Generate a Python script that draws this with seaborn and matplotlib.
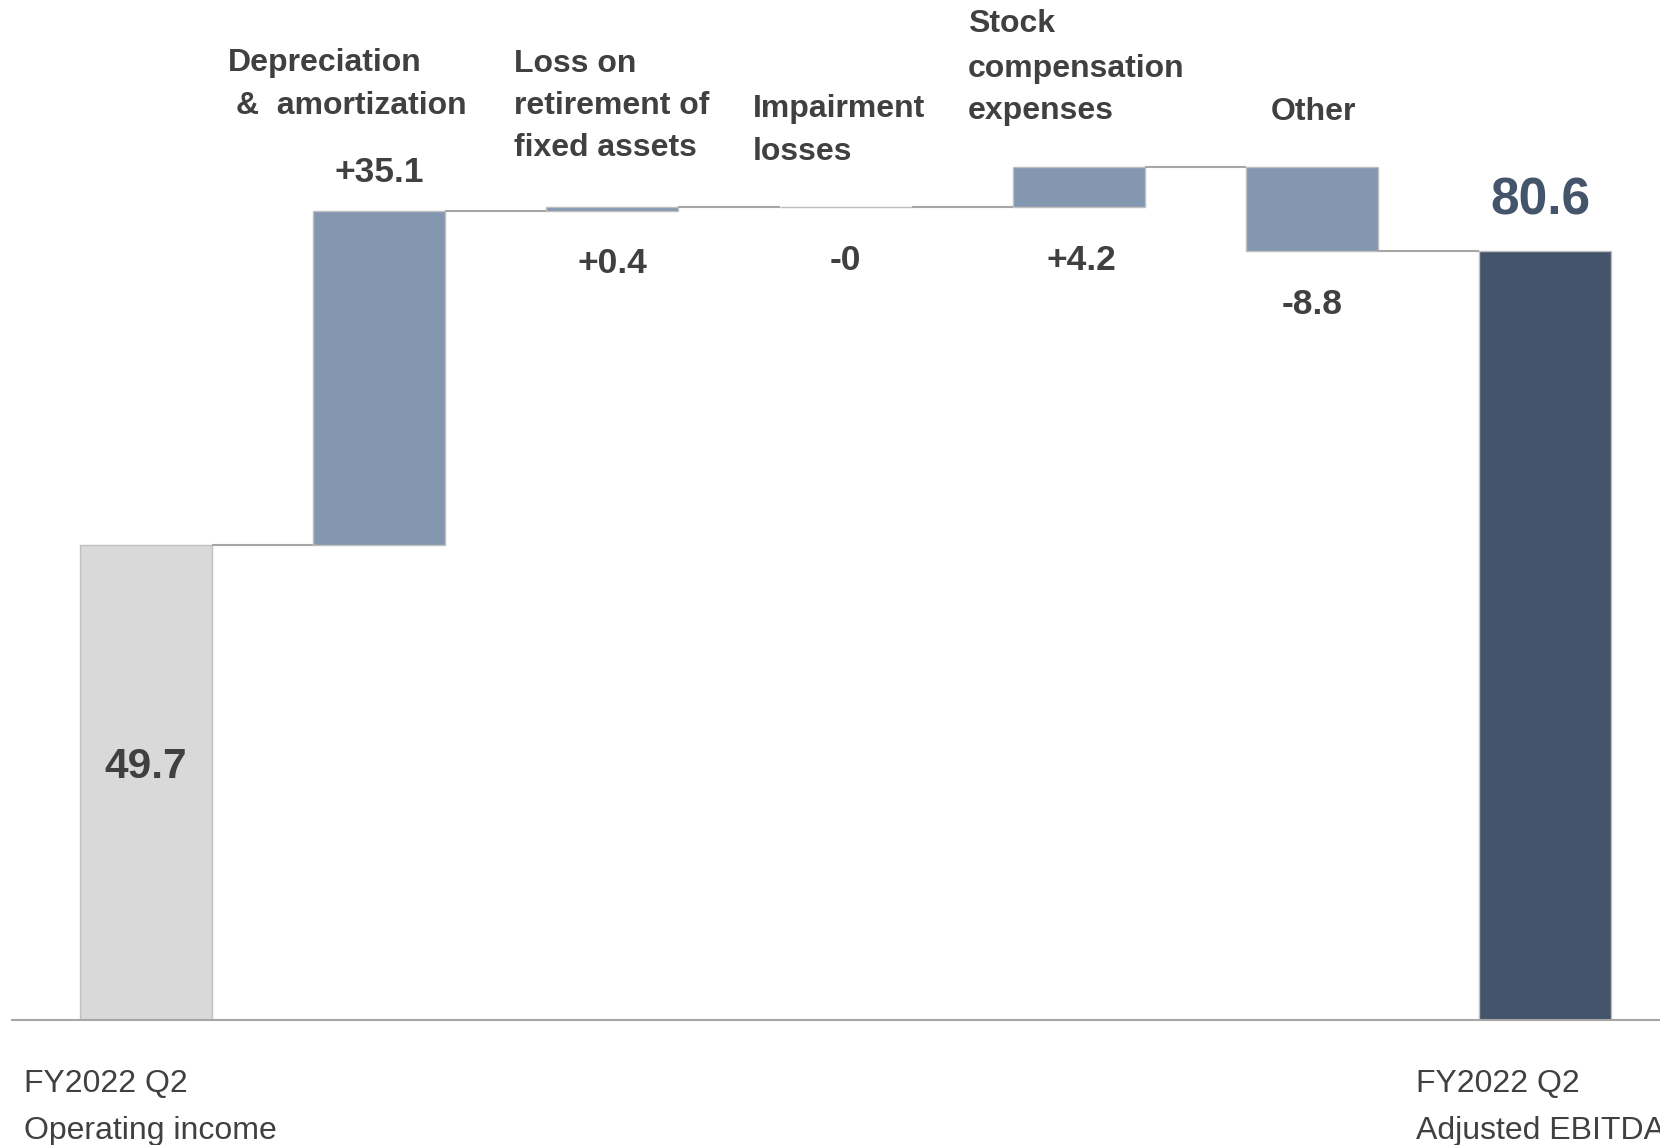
import matplotlib
matplotlib.use("Agg")
import matplotlib.pyplot as plt
import seaborn as sns
import pandas as pd

# ---- data -------------------------------------------------------------
categories = ["start", "dep", "loss", "impair", "stock", "other", "end"]
changes = [49.7, 35.1, 0.4, -0.0, 4.2, -8.8, 80.6]
value_labels = ["49.7", "+35.1", "+0.4", "-0", "+4.2", "-8.8", "80.6"]
bar_colors = ["#d9d9d9", "#8497b0", "#8497b0", "#8497b0", "#8497b0", "#8497b0", "#44546a"]

# category captions drawn above the steps (text lines, left x px, centre y px, align)
caption_lines = [
    ("Depreciation", 228, 63.5, "left"),
    ("&  amortization", 236, 106.5, "left"),
    ("Loss on", 514, 63.5, "left"),
    ("retirement of", 514, 106.5, "left"),
    ("fixed assets", 514, 148.5, "left"),
    ("Impairment", 753, 109.5, "left"),
    ("losses", 753, 151.5, "left"),
    ("Stock", 968, 24.5, "left"),
    ("compensation", 968, 68.5, "left"),
    ("expenses", 968, 110.5, "left"),
    ("Other", 1313, 111.5, "center"),
]
bottom_left = ["FY2022 Q2", "Operating income"]
bottom_right = ["FY2022 Q2", "Adjusted EBITDA"]

# ---- waterfall geometry ---------------------------------------------------
bottoms, heights, tops = [], [], []
running = 0.0
for i, c in enumerate(changes):
    if i == 0 or i == len(changes) - 1:
        b, h = 0.0, c
        running = c
    else:
        new = running + c
        b, h = min(running, new), abs(c)
        running = new
    bottoms.append(b)
    heights.append(h)
    tops.append(running)

df = pd.DataFrame({"cat": categories, "height": heights})

W, H = 1660, 1145
fig = plt.figure(figsize=(W / 100, H / 100), dpi=100)
sns.set_style("white")
plt.rcParams["font.family"] = ["Liberation Sans", "DejaVu Sans"]

ax = fig.add_axes([12 / W, 1 - 1019.5 / H, 1 - 12 / W, 1019.5 / H])
bar_w = 0.566
sns.barplot(data=df, x="cat", y="height", hue="cat", palette=bar_colors,
            order=categories, hue_order=categories, width=bar_w,
            edgecolor="#bfbfbf", linewidth=1.0, saturation=1, legend=False, ax=ax)

patches = sorted(ax.patches, key=lambda p: p.get_x())
for p, b in zip(patches, bottoms):
    p.set_y(b)

# connector lines between consecutive steps
for i in range(len(changes) - 1):
    ax.plot([i + bar_w / 2, i + 1 - bar_w / 2], [tops[i], tops[i]],
            color="#a6a6a6", lw=1.5, zorder=1, solid_capstyle="butt")

ax.set_xlim(-0.5746, 6.493)
ax.set_ylim(0, 106.87)
ax.set_xticks([])
ax.set_yticks([])
ax.set_xlabel("")
ax.set_ylabel("")
for s in ["top", "left", "right"]:
    ax.spines[s].set_visible(False)
ax.spines["bottom"].set_color("#a6a6a6")
ax.spines["bottom"].set_linewidth(1.5)

txt = "#404040"
# value labels
ax.text(0, 26.45, value_labels[0], ha="center", va="center",
        fontsize=30.5, fontweight="bold", color=txt)
for i in range(1, len(changes) - 1):
    if i == 1:
        y = tops[i] + 3.95
    else:
        y = bottoms[i] - 5.6
    dx = 0.012 if i == 4 else 0.0
    ax.text(i + dx, y, value_labels[i], ha="center", va="center",
            fontsize=25.5, fontweight="bold", color=txt)
ax.text(len(changes) - 1 - 0.018, tops[-1] + 5.15, value_labels[-1], ha="center", va="center",
        fontsize=37, fontweight="bold", color="#44546a")

# captions
for s, x, y, ha in caption_lines:
    fig.text(x / W, 1 - y / H, s, ha=ha, va="center", fontsize=23,
             fontweight="bold", color=txt)

for k, s in enumerate(bottom_left):
    fig.text(24 / W, 1 - (1084.5 + 46 * k) / H, s, ha="left", va="center",
             fontsize=23, color=txt)
for k, s in enumerate(bottom_right):
    fig.text(1416 / W, 1 - (1084.5 + 46 * k) / H, s, ha="left", va="center",
             fontsize=23, color=txt)

fig.savefig("out.png", dpi=100, facecolor="white")
